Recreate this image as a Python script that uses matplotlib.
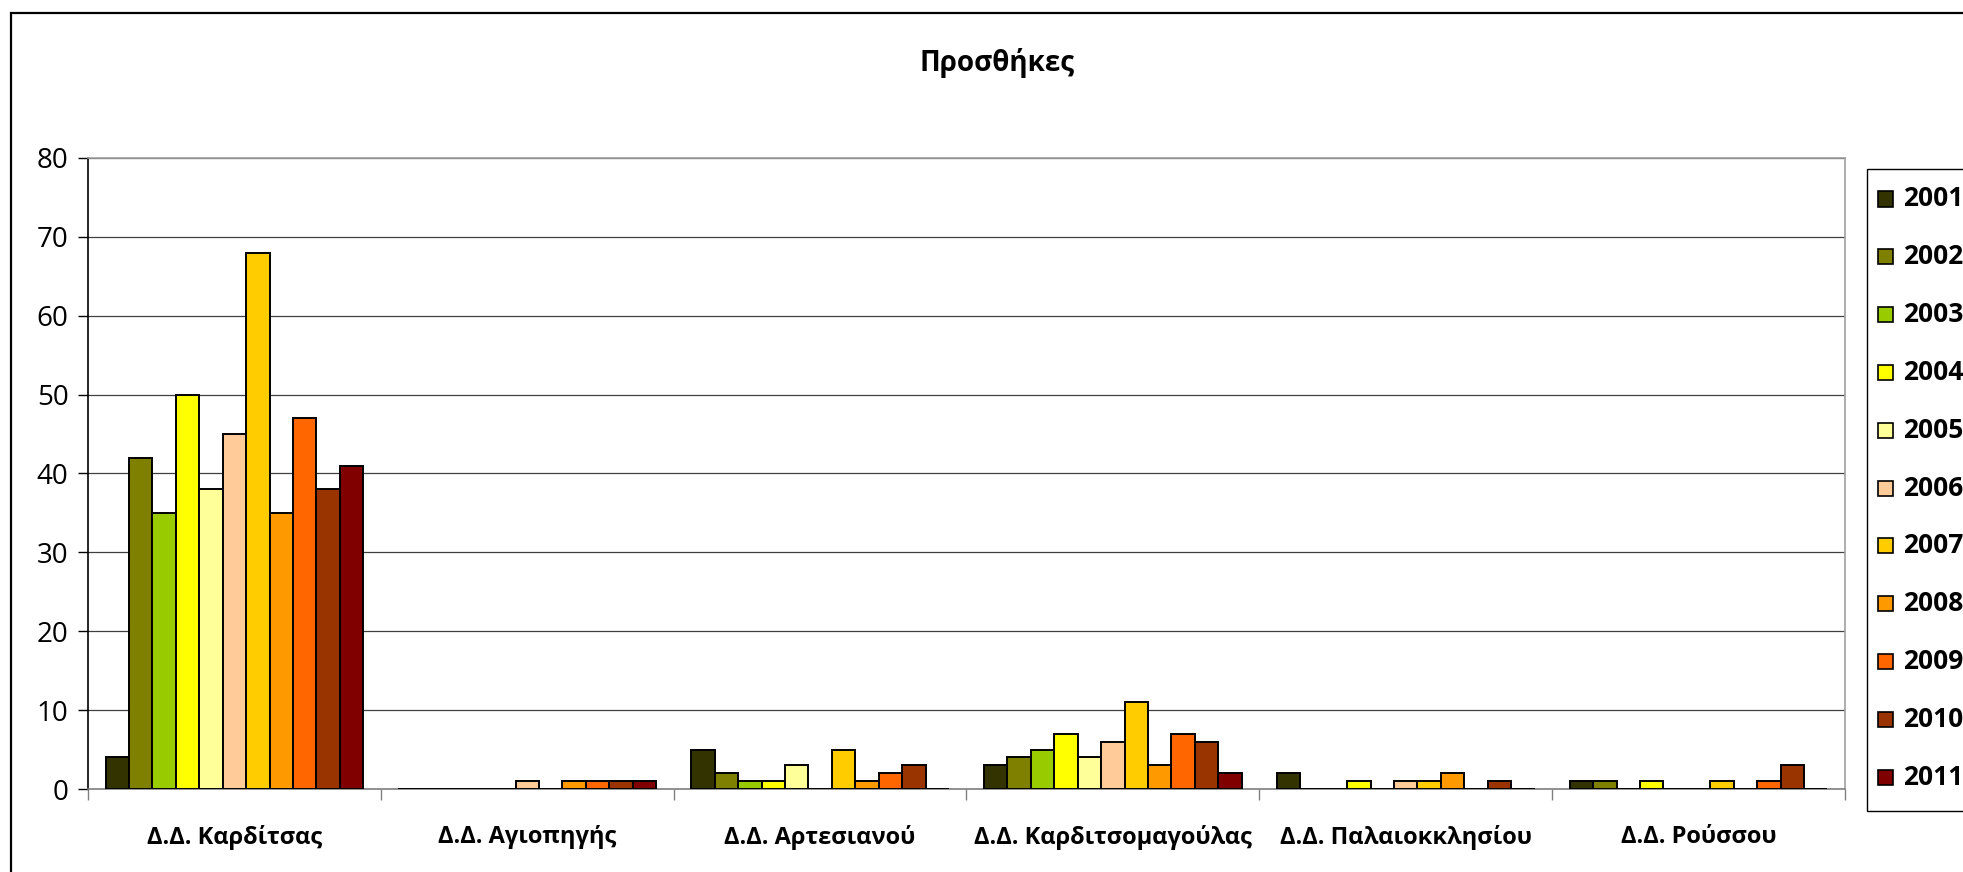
"""
Προσθήκες ανά Δημοτικό Διαμέρισμα, 2001-2011
Grouped bar chart in the old Excel style.
"""
import numpy as np
import matplotlib
matplotlib.use('Agg')
import matplotlib.pyplot as plt
from matplotlib.patches import Rectangle

plt.rcParams['font.family'] = ['Open Sans', 'DejaVu Sans']

categories = ['Δ.Δ. Καρδίτσας', 'Δ.Δ. Αγιοπηγής', 'Δ.Δ. Αρτεσιανού',
              'Δ.Δ. Καρδιτσομαγούλας', 'Δ.Δ. Παλαιοκκλησίου', 'Δ.Δ. Ρούσσου']
years = ['2001', '2002', '2003', '2004', '2005', '2006',
         '2007', '2008', '2009', '2010', '2011']

# one list per year, values in category order
y2001 = [4, 0, 5, 3, 2, 1]
y2002 = [42, 0, 2, 4, 0, 1]
y2003 = [35, 0, 1, 5, 0, 0]
y2004 = [50, 0, 1, 7, 1, 1]
y2005 = [38, 0, 3, 4, 0, 0]
y2006 = [45, 1, 0, 6, 1, 0]
y2007 = [68, 0, 5, 11, 1, 1]
y2008 = [35, 1, 1, 3, 2, 0]
y2009 = [47, 1, 2, 7, 0, 1]
y2010 = [38, 1, 3, 6, 1, 3]
y2011 = [41, 1, 0, 2, 0, 0]
series = [y2001, y2002, y2003, y2004, y2005, y2006,
          y2007, y2008, y2009, y2010, y2011]

colors = ['#333300', '#808000', '#99CC00', '#FFFF00', '#FFFF99', '#FFCC99',
          '#FFCC00', '#FF9900', '#FF6600', '#993300', '#800000']

W, H = 1963, 872
fig = plt.figure(figsize=(W / 100, H / 100), dpi=100)

# outer chart frame (runs off the right and bottom of the picture)
fig.patches.append(Rectangle((11 / W, -0.1), 1.2, (H - 13) / H + 0.1,
                             transform=fig.transFigure, fill=False,
                             edgecolor='black', linewidth=1.6, zorder=0))

ax = fig.add_axes([88 / W, (H - 789) / H, (1845 - 88) / W, (789 - 158) / H])

n = len(series)
width = 1 / (n + 1.5)
x = np.arange(len(categories))
for j, (vals, c) in enumerate(zip(series, colors)):
    ax.bar(x + (j - (n - 1) / 2) * width, vals, width, color=c,
           edgecolor='black', linewidth=1.4, zorder=3)

ax.set_xlim(-0.5, len(categories) - 0.5)
ax.set_ylim(0, 80)
ax.set_yticks(range(0, 81, 10))
ax.yaxis.grid(True, color='#404040', linewidth=0.9, zorder=0)
ax.set_axisbelow(True)

ax.set_xticks(x)
ax.set_xticklabels(categories, fontsize=17, fontweight='bold')
ax.tick_params(axis='x', length=0, pad=26)
ax.set_xticks(np.arange(len(categories) + 1) - 0.5, minor=True)
ax.tick_params(axis='x', which='minor', length=8, color='#808080', width=1)
ax.tick_params(axis='y', length=7, width=1, labelsize=20, pad=7)

ax.spines['left'].set_color('black')
ax.spines['bottom'].set_color('#808080')
ax.spines['top'].set_color('#a0a0a0')
ax.spines['right'].set_color('#a0a0a0')
for s in ax.spines.values():
    s.set_linewidth(1.2)

fig.text(997 / W, 1 - 63 / H, 'Προσθήκες', ha='center', va='center',
         fontsize=20, fontweight='bold')

# legend box drawn by hand so it is clipped at the picture edge like the original
fig.patches.append(Rectangle((1867 / W, 1 - 811 / H), 0.2, (811 - 169) / H,
                             transform=fig.transFigure, fill=False,
                             edgecolor='black', linewidth=1.0))
for k, (yr, c) in enumerate(zip(years, colors)):
    yc = 199 + k * 57.8
    fig.patches.append(Rectangle((1878 / W, 1 - (yc + 7.5) / H), 15 / W, 15 / H,
                                 transform=fig.transFigure, facecolor=c,
                                 edgecolor='black', linewidth=1.2))
    fig.text(1903 / W, 1 - yc / H, yr, ha='left', va='center',
             fontsize=19, fontweight='bold')

fig.savefig('out.png', dpi=100)
